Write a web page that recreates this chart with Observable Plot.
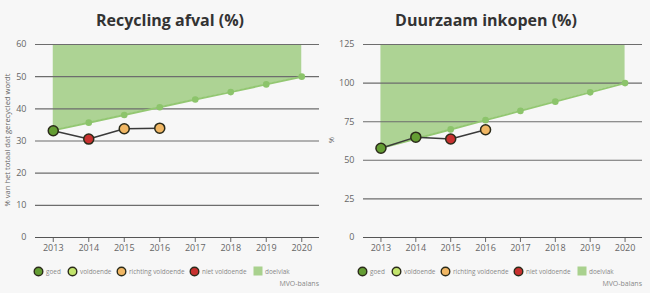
<!DOCTYPE html>
<html><head><meta charset="utf-8">
<script src="https://cdn.jsdelivr.net/npm/d3@7"></script>
<script src="https://cdn.jsdelivr.net/npm/@observablehq/plot@0.6"></script>
<style>
body{margin:0;background:#f7f7f7;font-family:"Open Sans",sans-serif;}
#wrap{position:relative;width:650px;height:293px;background:#f7f7f7;overflow:hidden;}
.panel{position:absolute;top:0;width:325px;height:293px;}
.title{position:absolute;top:10px;text-align:center;font-weight:700;font-size:16px;line-height:20px;color:#333;white-space:nowrap;transform:translateX(-50%);}
.ylab{position:absolute;font-size:7.6px;color:#666;white-space:nowrap;transform:translate(-50%,-50%) rotate(-90deg);}
.leg{position:absolute;top:265px;height:12px;display:flex;align-items:center;font-size:6.4px;color:#888;white-space:nowrap;}
.leg svg{margin-right:2px;}
.cap{position:absolute;top:279px;font-size:7px;color:#888;}
</style></head>
<body><div id="wrap"></div>
<script>
const years = [2013, 2014, 2015, 2016, 2017, 2018, 2019, 2020];
const actualYears = [2013, 2014, 2015, 2016];

const recyclingTarget = [33.3, 35.7, 38.1, 40.5, 42.9, 45.2, 47.6, 50];
const recyclingActual = [33.2, 30.6, 33.8, 34.0];
const recyclingStatus = ["goed", "niet voldoende", "richting voldoende", "richting voldoende"];
const recyclingTicks = [0, 10, 20, 30, 40, 50, 60];

const inkoopTarget = [58, 64, 70, 76, 82, 88, 94, 100];
const inkoopActual = [57.8, 65, 63.8, 69.8];
const inkoopStatus = ["goed", "goed", "niet voldoende", "richting voldoende"];
const inkoopTicks = [0, 25, 50, 75, 100, 125];

const statusNames = ["goed", "voldoende", "richting voldoende", "niet voldoende"];
const statusColors = ["#649d33", "#c2e46c", "#f1b764", "#c8312f"];
const areaColor = "#a9d18e";

const wrap = document.getElementById("wrap");

function panel(left, title, titleX, yLabel, yLabelX, mLeft, mRight, target, actual, status, ticks) {
  const p = document.createElement("div");
  p.className = "panel"; p.style.left = left + "px";
  const t = document.createElement("div");
  t.className = "title"; t.textContent = title; t.style.left = titleX + "px";
  p.appendChild(t);

  const tData = years.map((y, i) => ({year: y, value: target[i]}));
  const aData = actualYears.map((y, i) => ({year: y, value: actual[i], status: status[i]}));
  const top = ticks[ticks.length - 1];

  const chart = Plot.plot({
    width: 325, height: 222,
    marginTop: 10, marginBottom: 19, marginLeft: mLeft, marginRight: mRight,
    style: {background: "transparent", fontSize: "9px", color: "#666", fontFamily: "Open Sans"},
    x: {domain: [2012.5, 2020.5], ticks: years, tickFormat: d => String(d), tickSize: 5, tickPadding: 2, label: null},
    y: {domain: [0, top], ticks: ticks, tickSize: 0, tickPadding: 9, label: null},
    color: {domain: statusNames, range: statusColors},
    marks: [
      Plot.areaY(tData, {x: "year", y1: "value", y2: () => top, fill: areaColor, fillOpacity: 0.95}),
      Plot.ruleY(ticks.filter(d => d > 0), {stroke: "#6d6d6d", strokeWidth: 1.1}),
      Plot.ruleY([0], {stroke: "#555", strokeWidth: 1}),
      Plot.line(tData, {x: "year", y: "value", stroke: "#93c772", strokeWidth: 2}),
      Plot.dot(tData, {x: "year", y: "value", r: 3.3, fill: "#8cc46b"}),
      Plot.line(aData, {x: "year", y: "value", stroke: "#3a3a3a", strokeWidth: 1.5}),
      Plot.dot(aData, {x: "year", y: "value", r: 5, fill: "status", stroke: "#2b2b1a", strokeWidth: 1.5})
    ]
  });
  chart.style.position = "absolute"; chart.style.top = "34px"; chart.style.left = "0px";
  p.appendChild(chart);

  const yl = document.createElement("div");
  yl.className = "ylab"; yl.textContent = yLabel;
  yl.style.left = yLabelX + "px"; yl.style.top = "140px";
  p.appendChild(yl);

  const legX = [33, 67, 116, 189, 253];
  const labels = [...statusNames, "doelvlak"];
  labels.forEach((name, i) => {
    const d = document.createElement("div");
    d.className = "leg"; d.style.left = (legX[i] - (left ? 1 : 0)) + "px";
    const sw = i < 4
      ? `<svg width="11" height="11"><circle cx="5.5" cy="5.5" r="4.3" fill="${statusColors[i]}" stroke="#2b2b1a" stroke-width="1.4"/></svg>`
      : `<svg width="10" height="10"><rect x="0.5" y="0.5" width="9" height="9" fill="${areaColor}"/></svg>`;
    d.innerHTML = sw + `<span>${name}</span>`;
    p.appendChild(d);
  });
  const c = document.createElement("div");
  c.className = "cap"; c.textContent = "MVO-balans";
  c.style.right = (left ? 8 : 6) + "px";
  p.appendChild(c);
  wrap.appendChild(p);
}

panel(0, "Recycling afval (%)", 170, "% van het totaal dat gerecycled wordt", 7, 35, 6, recyclingTarget, recyclingActual, recyclingStatus, recyclingTicks);
panel(325, "Duurzaam inkopen (%)", 161, "%", 6, 38, 8, inkoopTarget, inkoopActual, inkoopStatus, inkoopTicks);
</script>
</body></html>
